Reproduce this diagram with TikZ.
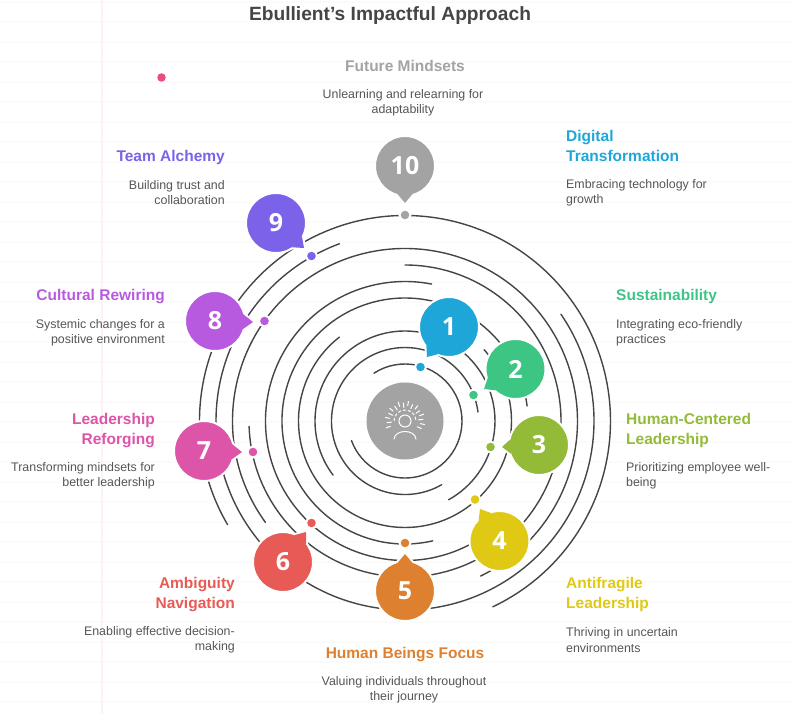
\documentclass[tikz,border=0pt]{standalone}
\usepackage{fontspec}
\setmainfont{Liberation Sans}
\newfontfamily\numfont{Open Sans}
\usetikzlibrary{calc}
\definecolor{cA}{HTML}{1EA6D9}
\definecolor{cB}{HTML}{3CC583}
\definecolor{cC}{HTML}{93BB38}
\definecolor{cD}{HTML}{DFC914}
\definecolor{cE}{HTML}{DD8030}
\definecolor{cF}{HTML}{E75A55}
\definecolor{cG}{HTML}{DC55A9}
\definecolor{cH}{HTML}{B85AE0}
\definecolor{cI}{HTML}{7C62E8}
\definecolor{cJ}{HTML}{A3A3A3}
\definecolor{ringc}{HTML}{454545}
\definecolor{desc}{HTML}{555555}
\definecolor{gridc}{HTML}{FBFBFB}
\definecolor{gridv}{HTML}{FDF3F6}
\definecolor{strayc}{HTML}{EC4A85}
\tikzset{
  x=1pt,y=1pt,
  ring/.style={draw=ringc,line width=1.4pt,line cap=round},
  bubble/.style={circle,draw=white,line width=2pt,minimum size=60pt,inner sep=0pt,text=white,
    font=\numfont\bfseries\fontsize{25}{25}\selectfont},
  spot/.style={circle,draw=white,line width=2pt,minimum size=11pt,inner sep=0pt},
  headR/.style={font=\bfseries\fontsize{15.5}{20}\selectfont,align=right,anchor=east,inner sep=0pt},
  headL/.style={font=\bfseries\fontsize{15.5}{20}\selectfont,align=left,anchor=west,inner sep=0pt},
  headC/.style={font=\bfseries\fontsize{15.5}{20}\selectfont,align=center,anchor=center,inner sep=0pt},
  bodyR/.style={text=desc,font=\fontsize{12.4}{15.2}\selectfont,align=right,anchor=east,inner sep=0pt},
  bodyL/.style={text=desc,font=\fontsize{12.4}{15.2}\selectfont,align=left,anchor=west,inner sep=0pt},
  bodyC/.style={text=desc,font=\fontsize{12.4}{15.2}\selectfont,align=center,anchor=center,inner sep=0pt},
  iconline/.style={draw=white,line width=1pt,line cap=round},
}
% name, cx, cy, tipx, tipy, colour, number
\newcommand{\speech}[7]{%
  \coordinate (#1c) at (#2,#3);
  \coordinate (#1t) at (#4,#5);
  \path let \p1=($(#1t)-(#1c)$), \n1={atan2(\y1,\x1)} in
    coordinate (#1u) at ($(#1c)+(\n1+15:29)$)
    coordinate (#1v) at ($(#1c)+(\n1-15:29)$);
  \draw[white,fill=white,line width=4pt,line join=round] (#1t) -- (#1u) -- (#1v) -- cycle;
  \node[bubble,fill=#6] (#1) at (#1c) {#7};
  \fill[#6] (#1t) -- (#1u) -- (#1v) -- cycle;
}
\begin{document}
\begin{tikzpicture}
\useasboundingbox (0,0) rectangle (793,-714);
% faint ruled paper
\foreach \k in {0,...,35} \draw[gridc,line width=1.3pt] (0,-2-20*\k) -- (793,-2-20*\k);
\draw[gridv,line width=1.3pt] (102,0) -- (102,-714);
\node[circle,fill=strayc,minimum size=8.5pt,inner sep=0pt] (stray) at (161.5,-77.5) {};
% title
\node[text=ringc,font=\bfseries\fontsize{19.2}{22}\selectfont,inner sep=0pt] (title) at (390,-16) {Ebullient's Impactful Approach};
% rings
\begin{scope}[shift={(405,-421)}]
\foreach \r/\a/\b in {57/123/-160, 73.5/-60/-353, 90/217/-61, 106.5/42/-232, 123/-77/-353,
  139.5/-55/-281, 156/90/-178, 172.5/216/-64, 189/34.4/-249.7, 205.5/210.3/-64.7}
  \draw[ring] (\a:\r) arc[start angle=\a,end angle=\b,radius=\r];
\end{scope}
% centre
\node[circle,fill=cJ,minimum size=77pt,inner sep=0pt] (core) at (405,-421) {};
\begin{scope}[shift={(core.center)}]
\draw[iconline] (0,0) circle[radius=6];
\draw[iconline,dash pattern=on 3pt off 2pt,line cap=butt] (-11,0) arc[start angle=180,end angle=0,radius=11];
\draw[iconline] (-11,-18) .. controls (-10,-8) and (10,-8) .. (11,-18);
\foreach \t/\ra in {-25/18,-10/20,5/18,20/20,35/18,50/20,65/18,80/20,95/18,110/20,125/18,140/20,155/18,170/20,185/18,200/20}
  \draw[iconline] (\t:\ra) -- ++(\t:-4.5);
\end{scope}
% bubbles
\speech{bA}{449}{-327}{427}{-357}{cA}{1}
\speech{bB}{515.5}{-369}{484}{-389}{cB}{2}
\speech{bC}{539}{-445}{502}{-447}{cC}{3}
\speech{bD}{499.5}{-541}{480}{-509}{cD}{4}
\speech{bE}{405}{-591}{405}{-554}{cE}{5}
\speech{bF}{283}{-562}{306}{-532}{cF}{6}
\speech{bG}{204}{-451}{242}{-452}{cG}{7}
\speech{bH}{215}{-321}{253}{-322}{cH}{8}
\speech{bI}{276}{-223}{304}{-248}{cI}{9}
\speech{bJ}{405}{-166}{405}{-203}{cJ}{10}
% dots
\node[spot,fill=cA] (dA) at (420.5,-367) {};
\node[spot,fill=cB] (dB) at (473.5,-395) {};
\node[spot,fill=cC] (dC) at (490.5,-447) {};
\node[spot,fill=cD] (dD) at (475,-499.5) {};
\node[spot,fill=cE] (dE) at (405,-543) {};
\node[spot,fill=cF] (dF) at (311.5,-523) {};
\node[spot,fill=cG] (dG) at (253,-452) {};
\node[spot,fill=cH] (dH) at (264.5,-321) {};
\node[spot,fill=cI] (dI) at (311.5,-256) {};
\node[spot,fill=cJ] (dJ) at (405,-215) {};
% labels
\node[headC,text=cJ] (h10) at (405,-66) {Future Mindsets};
\node[bodyC] (t10) at (403,-103) {Unlearning and relearning for\\adaptability};
\node[headL,text=cA] (h1) at (566,-146) {Digital\\Transformation};
\node[bodyL] (t1) at (566,-192.5) {Embracing technology for\\growth};
\node[headL,text=cB] (h2) at (616,-296.5) {Sustainability};
\node[bodyL] (t2) at (616,-332.5) {Integrating eco-friendly\\practices};
\node[headL,text=cC] (h3) at (626,-430.5) {Human-Centered\\Leadership};
\node[bodyL] (t3) at (626,-475.5) {Prioritizing employee well-\\being};
\node[headL,text=cD] (h4) at (566,-594.5) {Antifragile\\Leadership};
\node[bodyL] (t4) at (566,-640) {Thriving in uncertain\\environments};
\node[headC,text=cE] (h5) at (405,-654.5) {Human Beings Focus};
\node[bodyC] (t5) at (404,-689.5) {Valuing individuals throughout\\their journey};
\node[headR,text=cF] (h6) at (235,-594.5) {Ambiguity\\Navigation};
\node[bodyR] (t6) at (235,-640) {Enabling effective decision-\\making};
\node[headR,text=cG] (h7) at (155,-430.5) {Leadership\\Reforging};
\node[bodyR] (t7) at (155,-475.5) {Transforming mindsets for\\better leadership};
\node[headR,text=cH] (h8) at (165,-296.5) {Cultural Rewiring};
\node[bodyR] (t8) at (165,-332.5) {Systemic changes for a\\positive environment};
\node[headR,text=cI] (h9) at (225,-157) {Team Alchemy};
\node[bodyR] (t9) at (225,-192.5) {Building trust and\\collaboration};
\end{tikzpicture}
\end{document}
